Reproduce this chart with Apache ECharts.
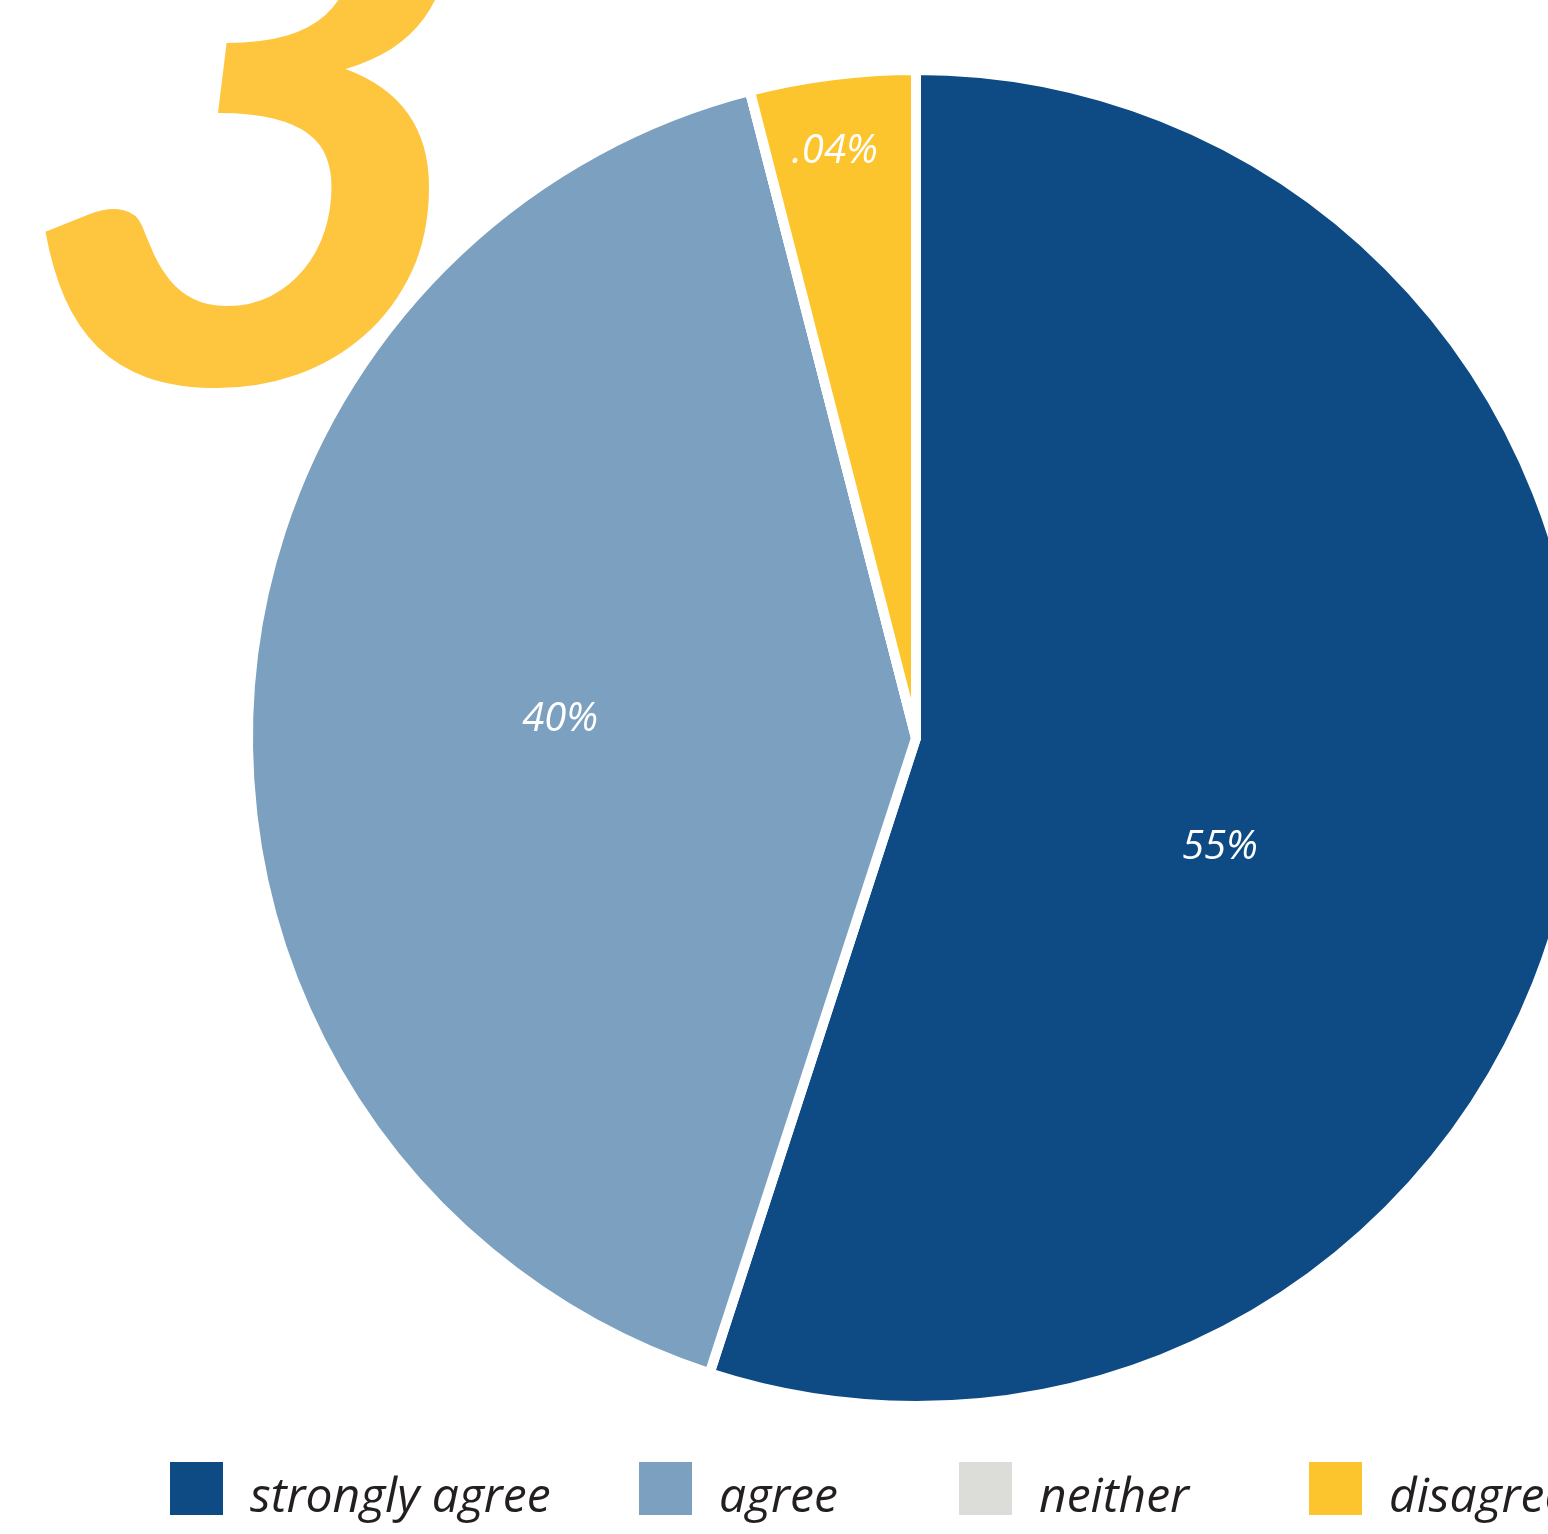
<!DOCTYPE html>
<html>
<head>
<meta charset="utf-8">
<script src="https://cdn.jsdelivr.net/npm/echarts@6/dist/echarts.min.js"></script>
<style>
html,body{margin:0;padding:0;background:#fff;}
#chart{width:1548px;height:1534px;}
</style>
</head>
<body>
<div id="chart"></div>
<script>
// Data
var categories = ['strongly agree', 'agree', 'neither', 'disagree'];
var values = [55, 41, 0, 4];
var sliceLabels = ['55%', '40%', '', '.04%'];
var bigNumber = '3';

// Styles (kept apart from data)
var colors = ['#0e4a83', '#7ca0c0', '#dcdcd8', '#fdc52d'];
var labelOffsets = [[-29, 57], [-19, -8], [0, 0], [-39, -252]];
var legendLefts = [168, 637, 957, 1307];

var chart = echarts.init(document.getElementById('chart'), null, {renderer: 'canvas'});

var pieData = categories.map(function (name, i) {
  return {
    name: name,
    value: values[i],
    itemStyle: {color: colors[i]},
    label: {
      show: sliceLabels[i] !== '',
      offset: labelOffsets[i]
    }
  };
});

var legends = categories.map(function (name, i) {
  return {
    data: [name],
    left: legendLefts[i],
    top: 1460,
    padding: 0,
    orient: 'horizontal',
    icon: 'rect',
    itemWidth: 55,
    itemHeight: 55,
    selectedMode: false,
    formatter: '{t|{name}}',
    textStyle: {
      fontFamily: 'Open Sans',
      fontStyle: 'italic',
      fontWeight: 400,
      fontSize: 48,
      color: '#231f20',
      rich: {
        t: {
          fontFamily: 'Open Sans',
          fontStyle: 'italic',
          fontWeight: 400,
          fontSize: 48,
          color: '#231f20',
          padding: [20, 0, 0, 21]
        }
      }
    }
  };
});

chart.setOption({
  animation: false,
  backgroundColor: '#ffffff',
  color: colors,
  legend: legends,
  graphic: [{
    type: 'text',
    left: 15,
    top: -293,
    z: 0,
    style: {
      text: bigNumber,
      fill: '#fec53f',
      font: 'italic bold 820px Lato'
    }
  }],
  series: [{
    type: 'pie',
    center: [916, 738],
    radius: 668,
    startAngle: 90,
    clockwise: true,
    z: 2,
    avoidLabelOverlap: false,
    itemStyle: {borderColor: '#ffffff', borderWidth: 10},
    label: {
      position: 'inside',
      color: '#ffffff',
      fontFamily: 'Open Sans',
      fontStyle: 'italic',
      fontWeight: 400,
      fontSize: 40,
      formatter: function (p) { return sliceLabels[p.dataIndex]; }
    },
    labelLine: {show: false},
    emphasis: {disabled: true},
    data: pieData
  }]
});
</script>
</body>
</html>
